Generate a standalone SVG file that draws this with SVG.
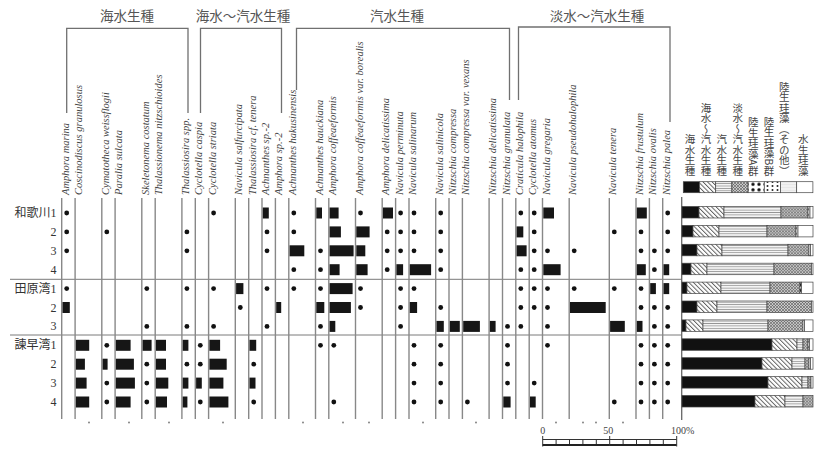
<svg xmlns="http://www.w3.org/2000/svg" width="814" height="450" viewBox="0 0 814 450">
<defs>
<pattern id="pDiag" width="3.2" height="3.2" patternUnits="userSpaceOnUse" patternTransform="rotate(-45)"><rect width="3.2" height="3.2" fill="#fff"/><line x1="0.5" y1="0" x2="0.5" y2="3.2" stroke="#555" stroke-width="0.9"/></pattern>
<pattern id="pHor" width="4" height="2.4" patternUnits="userSpaceOnUse"><rect width="4" height="2.4" fill="#f4f4f4"/><line x1="0" y1="1.2" x2="4" y2="1.2" stroke="#8a8a8a" stroke-width="0.8"/></pattern>
<pattern id="pCross" width="3" height="3" patternUnits="userSpaceOnUse"><rect width="3" height="3" fill="#c8c8c8"/><path d="M0,0 L3,3 M3,0 L0,3" stroke="#555" stroke-width="0.6"/></pattern>
<pattern id="pDotA" width="6" height="5.5" patternUnits="userSpaceOnUse"><rect width="6" height="5.5" fill="#fff"/><circle cx="3" cy="2.75" r="1.7" fill="#111"/></pattern>
<pattern id="pDotB" width="5" height="4" patternUnits="userSpaceOnUse"><rect width="5" height="4" fill="#fff"/><circle cx="2.5" cy="2" r="1" fill="#222"/></pattern>
<pattern id="pOth" width="4" height="3" patternUnits="userSpaceOnUse"><rect width="4" height="3" fill="#f1f1f1"/><line x1="0" y1="1.5" x2="4" y2="1.5" stroke="#ddd" stroke-width="0.5"/></pattern>
</defs>
<style>
.ln{stroke:#888;stroke-width:1.4}
.sep{stroke:#7a7a7a;stroke-width:1}
.br{stroke:#707070;stroke-width:1.3;fill:none}
.d{fill:#111}
.b{fill:#161616}
.sp{font-family:"Liberation Serif",serif;font-style:italic;font-size:10.5px;fill:#444}
.hd{font-family:"Noto Sans CJK JP",sans-serif;font-size:13.5px;fill:#555;text-anchor:middle}
.rl{font-family:"Liberation Serif","Noto Sans CJK JP",serif;font-size:12px;fill:#333;text-anchor:end}
.lg{font-family:"Noto Sans CJK JP",sans-serif;font-size:10.5px;fill:#444;writing-mode:vertical-rl;text-anchor:end}
.sg rect{stroke:#444;stroke-width:0.7}
.s1{fill:#111}.s2{fill:url(#pDiag)}.s3{fill:url(#pHor)}.s4{fill:url(#pCross)}.s5{fill:url(#pDotA)}.s6{fill:url(#pDotB)}.s7{fill:url(#pOth)}.s8{fill:#fff}
.sc{font-family:"Liberation Serif",serif;font-size:10px;fill:#444}
.tk{stroke:#333;stroke-width:1}
</style>
<rect width="814" height="450" fill="#fff"/>

<g id="headers">
<path class="br" d="M66.7,113 V28.3 H188 V113"/>
<text class="hd" x="127" y="21">海水生種</text>
<path class="br" d="M200.5,113 V28.3 H281.5 V113"/>
<text class="hd" x="243" y="21">海水〜汽水生種</text>
<path class="br" d="M296.5,90 V28.3 H509.5 V100"/>
<text class="hd" x="397" y="21">汽水生種</text>
<path class="br" d="M518.5,100 V27 H670 V122"/>
<text class="hd" x="597" y="21">淡水〜汽水生種</text>
</g>

<g id="rows">
<text class="rl" x="56.5" y="217">和歌川1</text>
<text class="rl" x="56.5" y="235.9">2</text>
<text class="rl" x="56.5" y="254.8">3</text>
<text class="rl" x="56.5" y="273.7">4</text>
<text class="rl" x="56.5" y="292.6">田原湾1</text>
<text class="rl" x="56.5" y="311.5">2</text>
<text class="rl" x="56.5" y="330.4">3</text>
<text class="rl" x="56.5" y="349.3">諫早湾1</text>
<text class="rl" x="56.5" y="368.2">2</text>
<text class="rl" x="56.5" y="387.1">3</text>
<text class="rl" x="56.5" y="406">4</text>
<line class="sep" x1="10" y1="279.3" x2="682" y2="279.3"/>
<line class="sep" x1="10" y1="335" x2="682" y2="335"/>
</g>

<g id="c0" transform="translate(61.7,0)"><line class="ln" x1="0" y1="198" x2="0" y2="419"/><text class="sp" transform="translate(7,195) rotate(-90)">Amphora marina</text>
<circle class="d" cx="5" cy="213" r="2.4"/><circle class="d" cx="5" cy="231.9" r="2.4"/><circle class="d" cx="5" cy="250.8" r="2.4"/><circle class="d" cx="5" cy="288.6" r="2.4"/><rect class="b" x="0.8" y="302" width="7.3" height="11"/></g>
<g id="c1" transform="translate(75.1,0)"><line class="ln" x1="0" y1="198" x2="0" y2="419"/><text class="sp" transform="translate(7,195) rotate(-90)">Coscinodiscus granulosus</text>
<rect class="b" x="0.8" y="339.8" width="13.3" height="11"/><rect class="b" x="0.8" y="358.7" width="9" height="11"/><rect class="b" x="0.8" y="377.6" width="10.7" height="11"/><rect class="b" x="0.8" y="396.5" width="13.3" height="11"/></g>
<g id="c3" transform="translate(101.8,0)"><line class="ln" x1="0" y1="198" x2="0" y2="419"/><text class="sp" transform="translate(7,195) rotate(-90)">Cymatotheca weissflogii</text>
<circle class="d" cx="5" cy="231.9" r="2.4"/><circle class="d" cx="5" cy="345.3" r="2.4"/><circle class="d" cx="5" cy="383.1" r="2.4"/><circle class="d" cx="5" cy="402" r="2.4"/><rect class="b" x="0.8" y="358.7" width="5" height="11"/></g>
<g id="c4" transform="translate(115.1,0)"><line class="ln" x1="0" y1="198" x2="0" y2="419"/><text class="sp" transform="translate(7,195) rotate(-90)">Paralia sulcata</text>
<rect class="b" x="0.8" y="339.8" width="14.7" height="11"/><rect class="b" x="0.8" y="358.7" width="18" height="11"/><rect class="b" x="0.8" y="377.6" width="19" height="11"/><rect class="b" x="0.8" y="396.5" width="14.7" height="11"/></g>
<g id="c6" transform="translate(141.8,0)"><line class="ln" x1="0" y1="198" x2="0" y2="419"/><text class="sp" transform="translate(7,195) rotate(-90)">Skeletonema costatum</text>
<circle class="d" cx="5" cy="288.6" r="2.4"/><circle class="d" cx="5" cy="326.4" r="2.4"/><circle class="d" cx="5" cy="364.2" r="2.4"/><circle class="d" cx="5" cy="383.1" r="2.4"/><circle class="d" cx="5" cy="402" r="2.4"/><rect class="b" x="0.8" y="339.8" width="9" height="11"/></g>
<g id="c7" transform="translate(155.2,0)"><line class="ln" x1="0" y1="198" x2="0" y2="419"/><text class="sp" transform="translate(7,195) rotate(-90)">Thalassionema nitzschioides</text>
<rect class="b" x="0.8" y="339.8" width="10" height="11"/><rect class="b" x="0.8" y="358.7" width="10" height="11"/><rect class="b" x="0.8" y="377.6" width="12.3" height="11"/><rect class="b" x="0.8" y="396.5" width="11" height="11"/></g>
<g id="c9" transform="translate(181.9,0)"><line class="ln" x1="0" y1="198" x2="0" y2="419"/><text class="sp" transform="translate(7,195) rotate(-90)">Thalassiosira spp.</text>
<circle class="d" cx="5" cy="231.9" r="2.4"/><circle class="d" cx="5" cy="250.8" r="2.4"/><circle class="d" cx="5" cy="288.6" r="2.4"/><circle class="d" cx="5" cy="326.4" r="2.4"/><circle class="d" cx="5" cy="364.2" r="2.4"/><rect class="b" x="0.8" y="339.8" width="5.7" height="11"/><rect class="b" x="0.8" y="377.6" width="5.7" height="11"/><rect class="b" x="0.8" y="396.5" width="4.7" height="11"/></g>
<g id="c10" transform="translate(195.3,0)"><line class="ln" x1="0" y1="198" x2="0" y2="419"/><text class="sp" transform="translate(7,195) rotate(-90)">Cyclotella caspia</text>
<circle class="d" cx="5" cy="345.3" r="2.4"/><circle class="d" cx="5" cy="364.2" r="2.4"/><circle class="d" cx="5" cy="402" r="2.4"/><rect class="b" x="0.8" y="377.6" width="5.7" height="11"/></g>
<g id="c11" transform="translate(208.6,0)"><line class="ln" x1="0" y1="198" x2="0" y2="419"/><text class="sp" transform="translate(7,195) rotate(-90)">Cyclotella striata</text>
<circle class="d" cx="5" cy="213" r="2.4"/><circle class="d" cx="5" cy="288.6" r="2.4"/><circle class="d" cx="5" cy="326.4" r="2.4"/><rect class="b" x="0.8" y="339.8" width="10.7" height="11"/><rect class="b" x="0.8" y="358.7" width="17.3" height="11"/><rect class="b" x="0.8" y="377.6" width="14" height="11"/><rect class="b" x="0.8" y="396.5" width="19" height="11"/></g>
<g id="c13" transform="translate(235.3,0)"><line class="ln" x1="0" y1="198" x2="0" y2="419"/><text class="sp" transform="translate(7,195) rotate(-90)">Navicula salfurcipata</text>
<rect class="b" x="0.8" y="283.1" width="7.3" height="11"/><circle class="d" cx="5" cy="307.5" r="2.4"/></g>
<g id="c14" transform="translate(248.7,0)"><line class="ln" x1="0" y1="198" x2="0" y2="419"/><text class="sp" transform="translate(7,195) rotate(-90)">Thalassiosira cf. tenera</text>
<rect class="b" x="0.8" y="339.8" width="6.7" height="11"/><rect class="b" x="0.8" y="377.6" width="6" height="11"/><circle class="d" cx="5" cy="364.2" r="2.4"/><circle class="d" cx="5" cy="402" r="2.4"/></g>
<g id="c15" transform="translate(262,0)"><line class="ln" x1="0" y1="198" x2="0" y2="419"/><text class="sp" transform="translate(7,195) rotate(-90)">Achnanthes sp.-2</text>
<rect class="b" x="0.8" y="207.5" width="6" height="11"/><circle class="d" cx="5" cy="231.9" r="2.4"/><circle class="d" cx="5" cy="250.8" r="2.4"/><circle class="d" cx="5" cy="288.6" r="2.4"/><circle class="d" cx="5" cy="326.4" r="2.4"/></g>
<g id="c16" transform="translate(275.4,0)"><line class="ln" x1="0" y1="198" x2="0" y2="419"/><text class="sp" transform="translate(7,195) rotate(-90)">Amphora sp.-2</text>
<rect class="b" x="0.8" y="302" width="5" height="11"/></g>
<g id="c17" transform="translate(288.8,0)"><line class="ln" x1="0" y1="198" x2="0" y2="419"/><text class="sp" transform="translate(7,195) rotate(-90)">Achnanthes hakusinensis</text>
<circle class="d" cx="5" cy="213" r="2.4"/><circle class="d" cx="5" cy="231.9" r="2.4"/><circle class="d" cx="5" cy="269.7" r="2.4"/><circle class="d" cx="5" cy="288.6" r="2.4"/><rect class="b" x="0.8" y="245.3" width="14.7" height="11"/></g>
<g id="c19" transform="translate(315.5,0)"><line class="ln" x1="0" y1="198" x2="0" y2="419"/><text class="sp" transform="translate(7,195) rotate(-90)">Achnanthes hauckiana</text>
<rect class="b" x="0.8" y="207.5" width="5.7" height="11"/><rect class="b" x="0.8" y="302" width="8" height="11"/><circle class="d" cx="5" cy="250.8" r="2.4"/><circle class="d" cx="5" cy="269.7" r="2.4"/><circle class="d" cx="5" cy="288.6" r="2.4"/><circle class="d" cx="5" cy="326.4" r="2.4"/><circle class="d" cx="5" cy="345.3" r="2.4"/></g>
<g id="c20" transform="translate(328.8,0)"><line class="ln" x1="0" y1="198" x2="0" y2="419"/><text class="sp" transform="translate(7,195) rotate(-90)">Amphora coffeaeformis</text>
<rect class="b" x="0.8" y="207.5" width="9" height="11"/><rect class="b" x="0.8" y="226.4" width="11.3" height="11"/><rect class="b" x="0.8" y="245.3" width="24" height="11"/><rect class="b" x="0.8" y="264.2" width="10" height="11"/><rect class="b" x="0.8" y="283.1" width="23" height="11"/><rect class="b" x="0.8" y="302" width="21.3" height="11"/><rect class="b" x="0.8" y="320.9" width="5.7" height="11"/><circle class="d" cx="5" cy="345.3" r="2.4"/><circle class="d" cx="5" cy="402" r="2.4"/></g>
<g id="c22" transform="translate(355.5,0)"><line class="ln" x1="0" y1="198" x2="0" y2="419"/><text class="sp" transform="translate(7,195) rotate(-90)">Amphora coffeaeformis var. borealis</text>
<circle class="d" cx="5" cy="213" r="2.4"/><circle class="d" cx="5" cy="288.6" r="2.4"/><circle class="d" cx="5" cy="307.5" r="2.4"/><rect class="b" x="0.8" y="226.4" width="13.3" height="11"/><rect class="b" x="0.8" y="245.3" width="9" height="11"/><rect class="b" x="0.8" y="264.2" width="11.3" height="11"/></g>
<g id="c24" transform="translate(382.2,0)"><line class="ln" x1="0" y1="198" x2="0" y2="419"/><text class="sp" transform="translate(7,195) rotate(-90)">Amphora delicatissima</text>
<rect class="b" x="0.8" y="207.5" width="10" height="11"/><circle class="d" cx="5" cy="231.9" r="2.4"/><circle class="d" cx="5" cy="250.8" r="2.4"/><circle class="d" cx="5" cy="269.7" r="2.4"/></g>
<g id="c25" transform="translate(395.6,0)"><line class="ln" x1="0" y1="198" x2="0" y2="419"/><text class="sp" transform="translate(7,195) rotate(-90)">Navicula perminuta</text>
<circle class="d" cx="5" cy="213" r="2.4"/><circle class="d" cx="5" cy="231.9" r="2.4"/><circle class="d" cx="5" cy="250.8" r="2.4"/><circle class="d" cx="5" cy="288.6" r="2.4"/><circle class="d" cx="5" cy="307.5" r="2.4"/><circle class="d" cx="5" cy="326.4" r="2.4"/><rect class="b" x="0.8" y="264.2" width="6.7" height="11"/></g>
<g id="c26" transform="translate(409,0)"><line class="ln" x1="0" y1="198" x2="0" y2="419"/><text class="sp" transform="translate(7,195) rotate(-90)">Navicula salinarum</text>
<circle class="d" cx="5" cy="213" r="2.4"/><circle class="d" cx="5" cy="231.9" r="2.4"/><circle class="d" cx="5" cy="250.8" r="2.4"/><circle class="d" cx="5" cy="288.6" r="2.4"/><circle class="d" cx="5" cy="345.3" r="2.4"/><circle class="d" cx="5" cy="364.2" r="2.4"/><circle class="d" cx="5" cy="383.1" r="2.4"/><circle class="d" cx="5" cy="402" r="2.4"/><rect class="b" x="0.8" y="264.2" width="21.3" height="11"/><rect class="b" x="0.8" y="302" width="7.3" height="11"/></g>
<g id="c28" transform="translate(435.7,0)"><line class="ln" x1="0" y1="198" x2="0" y2="419"/><text class="sp" transform="translate(7,195) rotate(-90)">Navicula salinicola</text>
<circle class="d" cx="5" cy="213" r="2.4"/><circle class="d" cx="5" cy="231.9" r="2.4"/><circle class="d" cx="5" cy="250.8" r="2.4"/><circle class="d" cx="5" cy="269.7" r="2.4"/><circle class="d" cx="5" cy="307.5" r="2.4"/><circle class="d" cx="5" cy="345.3" r="2.4"/><circle class="d" cx="5" cy="364.2" r="2.4"/><circle class="d" cx="5" cy="383.1" r="2.4"/><circle class="d" cx="5" cy="402" r="2.4"/><rect class="b" x="0.8" y="320.9" width="7.3" height="11"/></g>
<g id="c29" transform="translate(449,0)"><line class="ln" x1="0" y1="198" x2="0" y2="419"/><text class="sp" transform="translate(7,195) rotate(-90)">Nitzschia compressa</text>
<rect class="b" x="0.8" y="320.9" width="10" height="11"/></g>
<g id="c30" transform="translate(462.4,0)"><line class="ln" x1="0" y1="198" x2="0" y2="419"/><text class="sp" transform="translate(7,195) rotate(-90)">Nitzschia compressa var. vexans</text>
<rect class="b" x="0.8" y="320.9" width="16.7" height="11"/><circle class="d" cx="5" cy="402" r="2.4"/></g>
<g id="c32" transform="translate(489.1,0)"><line class="ln" x1="0" y1="198" x2="0" y2="419"/><text class="sp" transform="translate(7,195) rotate(-90)">Nitzschia delicatissima</text>
<rect class="b" x="0.8" y="320.9" width="5.7" height="11"/></g>
<g id="c33" transform="translate(502.5,0)"><line class="ln" x1="0" y1="198" x2="0" y2="419"/><text class="sp" transform="translate(7,195) rotate(-90)">Nitzschia granulata</text>
<circle class="d" cx="5" cy="326.4" r="2.4"/><circle class="d" cx="5" cy="345.3" r="2.4"/><circle class="d" cx="5" cy="364.2" r="2.4"/><circle class="d" cx="5" cy="383.1" r="2.4"/><rect class="b" x="0.8" y="396.5" width="7.3" height="11"/></g>
<g id="c34" transform="translate(515.8,0)"><line class="ln" x1="0" y1="198" x2="0" y2="419"/><text class="sp" transform="translate(7,195) rotate(-90)">Craticula halophila</text>
<circle class="d" cx="5" cy="213" r="2.4"/><circle class="d" cx="5" cy="269.7" r="2.4"/><circle class="d" cx="5" cy="288.6" r="2.4"/><circle class="d" cx="5" cy="307.5" r="2.4"/><circle class="d" cx="5" cy="326.4" r="2.4"/><rect class="b" x="0.8" y="226.4" width="6.7" height="11"/><rect class="b" x="0.8" y="245.3" width="10" height="11"/></g>
<g id="c35" transform="translate(529.2,0)"><line class="ln" x1="0" y1="198" x2="0" y2="419"/><text class="sp" transform="translate(7,195) rotate(-90)">Cyclotella atomus</text>
<circle class="d" cx="5" cy="213" r="2.4"/><circle class="d" cx="5" cy="231.9" r="2.4"/><circle class="d" cx="5" cy="250.8" r="2.4"/><circle class="d" cx="5" cy="269.7" r="2.4"/><circle class="d" cx="5" cy="288.6" r="2.4"/><circle class="d" cx="5" cy="307.5" r="2.4"/><circle class="d" cx="5" cy="383.1" r="2.4"/><rect class="b" x="0.8" y="396.5" width="5.7" height="11"/></g>
<g id="c36" transform="translate(542.5,0)"><line class="ln" x1="0" y1="198" x2="0" y2="419"/><text class="sp" transform="translate(7,195) rotate(-90)">Navicula gregaria</text>
<rect class="b" x="0.8" y="207.5" width="10.7" height="11"/><rect class="b" x="0.8" y="264.2" width="17.3" height="11"/><circle class="d" cx="5" cy="250.8" r="2.4"/><circle class="d" cx="5" cy="288.6" r="2.4"/><circle class="d" cx="5" cy="307.5" r="2.4"/><circle class="d" cx="5" cy="326.4" r="2.4"/><circle class="d" cx="5" cy="345.3" r="2.4"/></g>
<g id="c38" transform="translate(569.2,0)"><line class="ln" x1="0" y1="198" x2="0" y2="419"/><text class="sp" transform="translate(7,195) rotate(-90)">Navicula pseudohalophila</text>
<circle class="d" cx="5" cy="250.8" r="2.4"/><circle class="d" cx="5" cy="288.6" r="2.4"/><rect class="b" x="0.8" y="302" width="35.7" height="11"/></g>
<g id="c41" transform="translate(609.3,0)"><line class="ln" x1="0" y1="198" x2="0" y2="419"/><text class="sp" transform="translate(7,195) rotate(-90)">Navicula tenera</text>
<circle class="d" cx="5" cy="231.9" r="2.4"/><circle class="d" cx="5" cy="288.6" r="2.4"/><circle class="d" cx="5" cy="402" r="2.4"/><rect class="b" x="0.8" y="320.9" width="14.7" height="11"/></g>
<g id="c43" transform="translate(636,0)"><line class="ln" x1="0" y1="198" x2="0" y2="419"/><text class="sp" transform="translate(7,195) rotate(-90)">Nitzschia frustulum</text>
<rect class="b" x="0.8" y="207.5" width="10" height="11"/><rect class="b" x="0.8" y="264.2" width="9" height="11"/><rect class="b" x="0.8" y="320.9" width="5.7" height="11"/><circle class="d" cx="5" cy="231.9" r="2.4"/><circle class="d" cx="5" cy="250.8" r="2.4"/><circle class="d" cx="5" cy="288.6" r="2.4"/><circle class="d" cx="5" cy="307.5" r="2.4"/><circle class="d" cx="5" cy="345.3" r="2.4"/><circle class="d" cx="5" cy="364.2" r="2.4"/><circle class="d" cx="5" cy="383.1" r="2.4"/><circle class="d" cx="5" cy="402" r="2.4"/></g>
<g id="c44" transform="translate(649.4,0)"><line class="ln" x1="0" y1="198" x2="0" y2="419"/><text class="sp" transform="translate(7,195) rotate(-90)">Nitzschia ovalis</text>
<circle class="d" cx="5" cy="250.8" r="2.4"/><circle class="d" cx="5" cy="269.7" r="2.4"/><circle class="d" cx="5" cy="307.5" r="2.4"/><circle class="d" cx="5" cy="326.4" r="2.4"/><circle class="d" cx="5" cy="345.3" r="2.4"/><circle class="d" cx="5" cy="364.2" r="2.4"/><circle class="d" cx="5" cy="383.1" r="2.4"/><circle class="d" cx="5" cy="402" r="2.4"/><rect class="b" x="0.8" y="283.1" width="5.7" height="11"/></g>
<g id="c45" transform="translate(662.7,0)"><line class="ln" x1="0" y1="198" x2="0" y2="419"/><text class="sp" transform="translate(7,195) rotate(-90)">Nitzschia palea</text>
<circle class="d" cx="5" cy="213" r="2.4"/><circle class="d" cx="5" cy="231.9" r="2.4"/><circle class="d" cx="5" cy="250.8" r="2.4"/><circle class="d" cx="5" cy="307.5" r="2.4"/><circle class="d" cx="5" cy="326.4" r="2.4"/><circle class="d" cx="5" cy="345.3" r="2.4"/><circle class="d" cx="5" cy="364.2" r="2.4"/><circle class="d" cx="5" cy="383.1" r="2.4"/><circle class="d" cx="5" cy="402" r="2.4"/><rect class="b" x="0.8" y="264.2" width="5.7" height="11"/><rect class="b" x="0.8" y="283.1" width="5.7" height="11"/></g>

<g id="specks" fill="#777">
<circle cx="89" cy="422.5" r="0.9"/><circle cx="129" cy="422.5" r="0.9"/><circle cx="169" cy="422.5" r="0.9"/><circle cx="223" cy="422.5" r="0.9"/><circle cx="303" cy="422.5" r="0.9"/><circle cx="343" cy="422.5" r="0.9"/><circle cx="369" cy="422.5" r="0.9"/><circle cx="423" cy="422.5" r="0.9"/><circle cx="476" cy="422.5" r="0.9"/><circle cx="556" cy="422.5" r="0.9"/><circle cx="583" cy="422.5" r="0.9"/><circle cx="596" cy="422.5" r="0.9"/><circle cx="623" cy="422.5" r="0.9"/>
</g>

<g id="stacked" class="sg">
<line x1="681.7" y1="197" x2="681.7" y2="420" stroke="#666" stroke-width="1.3"/>
<g transform="translate(0,206.5)"><rect class="s1" x="682" width="17" height="11.5"/><rect class="s2" x="699" width="25" height="11.5"/><rect class="s3" x="724" width="57" height="11.5"/><rect class="s4" x="781" width="27" height="11.5"/><rect class="s5" x="808" width="2" height="11.5"/><rect class="s8" x="810" width="3" height="11.5"/></g>
<g transform="translate(0,225.4)"><rect class="s1" x="682" width="11" height="11.5"/><rect class="s2" x="693" width="26" height="11.5"/><rect class="s3" x="719" width="48" height="11.5"/><rect class="s4" x="767" width="29" height="11.5"/><rect class="s5" x="796" width="2" height="11.5"/><rect class="s8" x="798" width="15" height="11.5"/></g>
<g transform="translate(0,244.3)"><rect class="s1" x="682" width="15" height="11.5"/><rect class="s2" x="697" width="25" height="11.5"/><rect class="s3" x="722" width="66" height="11.5"/><rect class="s4" x="788" width="21" height="11.5"/><rect class="s5" x="809" width="1.5" height="11.5"/><rect class="s8" x="810.5" width="2.5" height="11.5"/></g>
<g transform="translate(0,263.2)"><rect class="s1" x="682" width="9" height="11.5"/><rect class="s2" x="691" width="16" height="11.5"/><rect class="s3" x="707" width="67" height="11.5"/><rect class="s4" x="774" width="37.5" height="11.5"/><rect class="s8" x="811.5" width="1.5" height="11.5"/></g>
<g transform="translate(0,282.1)"><rect class="s1" x="682" width="5" height="11.5"/><rect class="s2" x="687" width="34" height="11.5"/><rect class="s3" x="721" width="49" height="11.5"/><rect class="s4" x="770" width="30" height="11.5"/><rect class="s5" x="800" width="1.5" height="11.5"/><rect class="s8" x="801.5" width="11.5" height="11.5"/></g>
<g transform="translate(0,301)"><rect class="s1" x="682" width="15" height="11.5"/><rect class="s2" x="697" width="20" height="11.5"/><rect class="s3" x="717" width="50" height="11.5"/><rect class="s4" x="767" width="44.5" height="11.5"/><rect class="s8" x="811.5" width="1.5" height="11.5"/></g>
<g transform="translate(0,319.9)"><rect class="s1" x="682" width="4" height="11.5"/><rect class="s2" x="686" width="17" height="11.5"/><rect class="s3" x="703" width="65" height="11.5"/><rect class="s4" x="768" width="35" height="11.5"/><rect class="s5" x="803" width="1.5" height="11.5"/><rect class="s8" x="804.5" width="8.5" height="11.5"/></g>
<g transform="translate(0,338.8)"><rect class="s1" x="682" width="90" height="11.5"/><rect class="s2" x="772" width="25" height="11.5"/><rect class="s3" x="797" width="6" height="11.5"/><rect class="s4" x="803" width="5" height="11.5"/><rect class="s5" x="808" width="1.5" height="11.5"/><rect class="s8" x="809.5" width="3.5" height="11.5"/></g>
<g transform="translate(0,357.7)"><rect class="s1" x="682" width="80" height="11.5"/><rect class="s2" x="762" width="30" height="11.5"/><rect class="s3" x="792" width="13" height="11.5"/><rect class="s4" x="805" width="4" height="11.5"/><rect class="s5" x="809" width="1.5" height="11.5"/><rect class="s8" x="810.5" width="2.5" height="11.5"/></g>
<g transform="translate(0,376.6)"><rect class="s1" x="682" width="86" height="11.5"/><rect class="s2" x="768" width="34" height="11.5"/><rect class="s3" x="802" width="6" height="11.5"/><rect class="s4" x="808" width="3" height="11.5"/><rect class="s8" x="811" width="2" height="11.5"/></g>
<g transform="translate(0,395.5)"><rect class="s1" x="682" width="73" height="11.5"/><rect class="s2" x="755" width="30" height="11.5"/><rect class="s3" x="785" width="18" height="11.5"/><rect class="s4" x="803" width="10" height="11.5"/></g>
</g>

<g id="legend">
<g class="sg">
<rect class="s1" x="683.3" y="181.7" width="16.2" height="11"/>
<rect class="s2" x="699.5" y="181.7" width="16.2" height="11"/>
<rect class="s3" x="715.7" y="181.7" width="16.2" height="11"/>
<rect class="s4" x="731.9" y="181.7" width="16.2" height="11"/>
<rect class="s5" x="748.1" y="181.7" width="16.2" height="11"/>
<rect class="s6" x="764.3" y="181.7" width="16.2" height="11"/>
<rect class="s7" x="780.5" y="181.7" width="16.2" height="11"/>
<rect class="s8" x="796.7" y="181.7" width="16.2" height="11"/>
</g>
<text class="lg" x="690" y="176">海水生種</text>
<text class="lg" x="706" y="176">海水〜汽水生種</text>
<text class="lg" x="721.7" y="176">汽水生種</text>
<text class="lg" x="737.7" y="176">淡水〜汽水生種</text>
<text class="lg" x="753.3" y="176">陸生珪藻A群</text>
<text class="lg" x="769" y="176">陸生珪藻B群</text>
<text class="lg" x="784.3" y="176">陸生珪藻（その他）</text>
<text class="lg" x="803.3" y="176">水生珪藻</text>
</g>

<g id="scale">
<text class="sc" x="542.7" y="434" text-anchor="middle">0</text>
<text class="sc" x="608.3" y="434" text-anchor="middle">50</text>
<text class="sc" x="671" y="434">100%</text>
<line class="tk" x1="542.7" y1="439.5" x2="676.7" y2="439.5"/>
<line x1="542.7" y1="445" x2="676.7" y2="445" stroke="#222" stroke-width="2"/>
<line class="tk" x1="542.7" y1="436" x2="542.7" y2="446.5"/>
<line class="tk" x1="676.7" y1="436" x2="676.7" y2="446.5"/>
<line class="tk" x1="609.7" y1="436" x2="609.7" y2="446"/>
<path class="tk" d="M556.1,439.5 V444 M569.5,439.5 V444 M582.9,439.5 V444 M596.3,439.5 V444 M623.1,439.5 V444 M636.5,439.5 V444 M649.9,439.5 V444 M663.3,439.5 V444"/>
</g>
</svg>
